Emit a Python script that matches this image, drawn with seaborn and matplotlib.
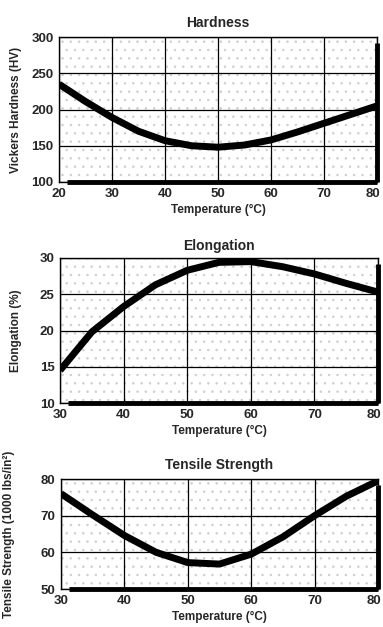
import matplotlib
matplotlib.use("Agg")
import matplotlib.pyplot as plt
from matplotlib.patches import Rectangle
from matplotlib.transforms import ScaledTranslation
import seaborn as sns
import pandas as pd

# Heat-treatment temperature series (deg C)
hard_temp = [20, 25, 30, 35, 40, 45, 50, 55, 60, 65, 70, 75, 80]
hardness = [235, 211, 189, 170, 157, 150, 148, 151, 158, 169, 181, 193, 205]

elong_temp = [30, 35, 40, 45, 50, 55, 60, 65, 70, 75, 80]
elongation = [14.5, 19.8, 23.3, 26.3, 28.3, 29.4, 29.5, 28.8, 27.8, 26.5, 25.3]

tens_temp = [30, 35, 40, 45, 50, 55, 60, 65, 70, 75, 80]
tensile = [76.0, 70.2, 64.6, 60.0, 57.2, 56.8, 59.5, 64.2, 70.0, 75.3, 79.5]

titles = ["Hardness", "Elongation", "Tensile Strength"]
ylabels = ["Vickers Hardness (HV)", "Elongation (%)", "Tensile Strength (1000 lbs/in\u00b2)"]
xlabel = "Temperature (\u00b0C)"

sns.set_style("white")
plt.rcParams["font.family"] = ["Liberation Sans Narrow", "Liberation Sans", "DejaVu Sans"]
plt.rcParams["font.weight"] = "bold"
plt.rcParams["hatch.linewidth"] = 0.5

W, H = 383, 627
fig = plt.figure(figsize=(W / 100, H / 100), dpi=100)


def px_axes(left, top, right, bottom):
    return fig.add_axes([left / W, 1 - bottom / H, (right - left) / W, (bottom - top) / H])


panels = [
    dict(box=(59, 37, 377, 182), x=hard_temp, y=hardness, xlim=(20, 80), ylim=(100, 300),
         xt=range(20, 81, 10), yt=range(100, 301, 50), ylab_x=22, pad=7),
    dict(box=(60, 258, 378, 403), x=elong_temp, y=elongation, xlim=(30, 80), ylim=(10, 30),
         xt=range(30, 81, 10), yt=range(10, 31, 5), ylab_x=22, pad=6),
    dict(box=(61, 479, 378, 589), x=tens_temp, y=tensile, xlim=(30, 80), ylim=(50, 80),
         xt=range(30, 81, 10), yt=range(50, 81, 10), ylab_x=15, pad=7),
]

for p, title, ylab in zip(panels, titles, ylabels):
    left, top, right, bottom = p["box"]
    wpx, hpx = right - left, bottom - top
    ax = px_axes(*p["box"])
    # light stippled paper background
    ax.add_patch(Rectangle((0, 0), 1, 1, transform=ax.transAxes, facecolor="white",
                           edgecolor="#cccccc", hatch="..", lw=0, zorder=0))
    df = pd.DataFrame({"t": p["x"], "v": p["y"]})
    sns.lineplot(data=df, x="t", y="v", ax=ax, color="black", lw=5.0,
                 solid_joinstyle="round", solid_capstyle="butt", zorder=3)
    ax.set_xlim(*p["xlim"])
    ax.set_ylim(*p["ylim"])
    ax.set_xticks(list(p["xt"]))
    ax.set_yticks(list(p["yt"]))
    ax.grid(True, color="black", lw=0.9, zorder=1)
    ax.set_axisbelow(False)
    ax.tick_params(axis="x", length=0, labelsize=9.5, pad=4.5)
    ax.tick_params(axis="y", length=0, labelsize=9.5, pad=4)
    for lbl in ax.get_xticklabels() + ax.get_yticklabels():
        lbl.set_fontweight("bold")
    # pull the last x label inside the figure edge
    last = ax.get_xticklabels()[-1]
    last.set_transform(last.get_transform() + ScaledTranslation(-4 / 100, 0, fig.dpi_scale_trans))
    ax.set_title(title, fontsize=10, fontweight="bold", pad=p["pad"])
    ax.set_xlabel(xlabel, fontsize=8.5, fontweight="bold", labelpad=3)
    ax.set_ylabel(ylab, fontsize=8.5, fontweight="bold")
    ax.yaxis.set_label_coords((p["ylab_x"] - left) / wpx, 0.5)
    for s in ax.spines.values():
        s.set_color("black")
        s.set_linewidth(1.0)
    # heavy drop shadow along right and bottom edges
    ax.plot([1.0, 1.0], [0.0, 1 - 6 / hpx], transform=ax.transAxes, color="black", lw=3.5,
            solid_capstyle="butt", clip_on=False, zorder=5)
    ax.plot([8 / wpx, 1.0], [0.0, 0.0], transform=ax.transAxes, color="black", lw=3.5,
            solid_capstyle="butt", clip_on=False, zorder=5)

fig.savefig("out.png", dpi=100)
